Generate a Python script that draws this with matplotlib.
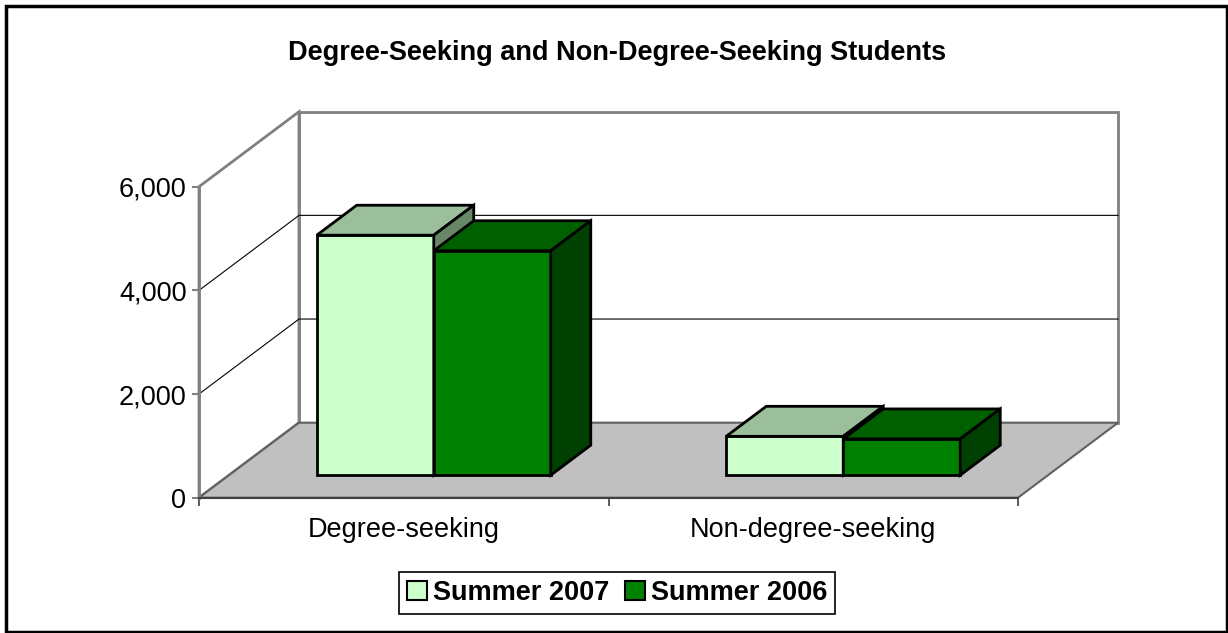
import matplotlib
matplotlib.use('Agg')
import matplotlib.pyplot as plt
from matplotlib.patches import Polygon, Rectangle, Patch
from matplotlib.ticker import FuncFormatter

plt.rcParams['font.family'] = ['Liberation Sans', 'DejaVu Sans']

categories = ['Degree-seeking', 'Non-degree-seeking']
series_names = ['Summer 2007', 'Summer 2006']
summer_2007 = [4630, 750]
summer_2006 = [4330, 700]
y_ticks = [0, 2000, 4000, 6000]

front_colors = ['#CCFFCC', '#008000']
top_colors = ['#9ABF9A', '#006000']
side_colors = ['#678767', '#004000']

YMAX = 6000
DX = 100 / 409.5          # depth shift in category units
DV = 75 * YMAX / 311      # depth shift in value units
BAR_W = 1 / 3.5           # gap width 150%
D0, D1 = 0.3, 0.7         # bar depth range


def proj(x, v, d):
    return (x + d * DX, v + d * DV)


fig = plt.figure(figsize=(12.28, 6.33), dpi=100)
ax = fig.add_axes([199 / 1228, (633 - 497.7) / 633, 819 / 1228, 311 / 633])
ax.set_xlim(0, len(categories))
ax.set_ylim(0, YMAX)
ax.patch.set_visible(False)

ncat = len(categories)
wall_kw = dict(edgecolor='#808080', linewidth=2, clip_on=False)

# back wall, left wall, floor
ax.add_patch(Polygon([proj(0, 0, 1), proj(ncat, 0, 1), proj(ncat, YMAX, 1), proj(0, YMAX, 1)],
                     facecolor='white', zorder=1, **wall_kw))
ax.add_patch(Polygon([proj(0, 0, 0), proj(0, YMAX, 0), proj(0, YMAX, 1), proj(0, 0, 1)],
                     facecolor='white', zorder=1, **wall_kw))
for v in y_ticks[1:-1]:
    xs, ys = zip(proj(0, v, 0), proj(0, v, 1), proj(ncat, v, 1))
    ax.plot(xs, ys, color='black', lw=0.8, zorder=2, clip_on=False)
ax.add_patch(Polygon([proj(0, 0, 0), proj(ncat, 0, 0), proj(ncat, 0, 1), proj(0, 0, 1)],
                     facecolor='#C0C0C0', edgecolor='#606060', linewidth=1.5,
                     clip_on=False, zorder=3))

# bars
series = [summer_2007, summer_2006]
z = 4
for i in range(ncat):
    for j, vals in enumerate(series):
        v = vals[i]
        x0 = i + 0.5 - BAR_W + j * BAR_W
        x1 = x0 + BAR_W
        faces = [
            ([proj(x0, 0, D0), proj(x1, 0, D0), proj(x1, v, D0), proj(x0, v, D0)], front_colors[j]),
            ([proj(x0, v, D0), proj(x1, v, D0), proj(x1, v, D1), proj(x0, v, D1)], top_colors[j]),
            ([proj(x1, 0, D0), proj(x1, 0, D1), proj(x1, v, D1), proj(x1, v, D0)], side_colors[j]),
        ]
        for pts, c in faces:
            ax.add_patch(Polygon(pts, facecolor=c, edgecolor='black', linewidth=2.0,
                                 joinstyle='miter', clip_on=False, zorder=z))
        z += 1

# axes
for s in ['top', 'right']:
    ax.spines[s].set_visible(False)
ax.spines['left'].set_color('#808080')
ax.spines['left'].set_linewidth(2)
ax.spines['bottom'].set_color('#404040')
ax.spines['bottom'].set_linewidth(1.5)
ax.spines['left'].set_zorder(20)
ax.spines['bottom'].set_zorder(20)

ax.set_yticks(y_ticks)
ax.yaxis.set_major_formatter(FuncFormatter(lambda v, p: f'{int(v):,}'))
ax.tick_params(axis='y', colors='#808080', labelcolor='black', length=5, width=1.5,
               pad=4, labelsize=19.5)
ax.set_xticks([i + 0.5 for i in range(ncat)])
ax.set_xticklabels(categories)
ax.set_xticks(range(ncat + 1), minor=True)
ax.tick_params(axis='x', which='major', length=0, pad=14, labelsize=19.5)
ax.tick_params(axis='x', which='minor', length=6, width=1.2, colors='#404040')

fig.text(617 / 1228, 1 - 53 / 633, 'Degree-Seeking and Non-Degree-Seeking Students',
         ha='center', va='center', fontsize=19.5, fontweight='bold')

handles = [Patch(facecolor=c, edgecolor='black', linewidth=1.5) for c in front_colors]
leg = fig.legend(handles, series_names, loc='center', ncol=2,
                 bbox_to_anchor=(617 / 1228, 1 - 593 / 633),
                 prop={'weight': 'bold', 'size': 19.5},
                 handlelength=0.75, handleheight=0.75, handletextpad=0.2,
                 columnspacing=0.6, borderpad=0.3, fancybox=False, framealpha=1)
leg.get_frame().set_edgecolor('black')
leg.get_frame().set_linewidth(1.2)

fig.patches.append(Rectangle((6 / 1228, 1 / 633), 1221 / 1228, 626 / 633,
                             transform=fig.transFigure, fill=False,
                             edgecolor='black', linewidth=2.5))

fig.savefig('out.png', dpi=100)
